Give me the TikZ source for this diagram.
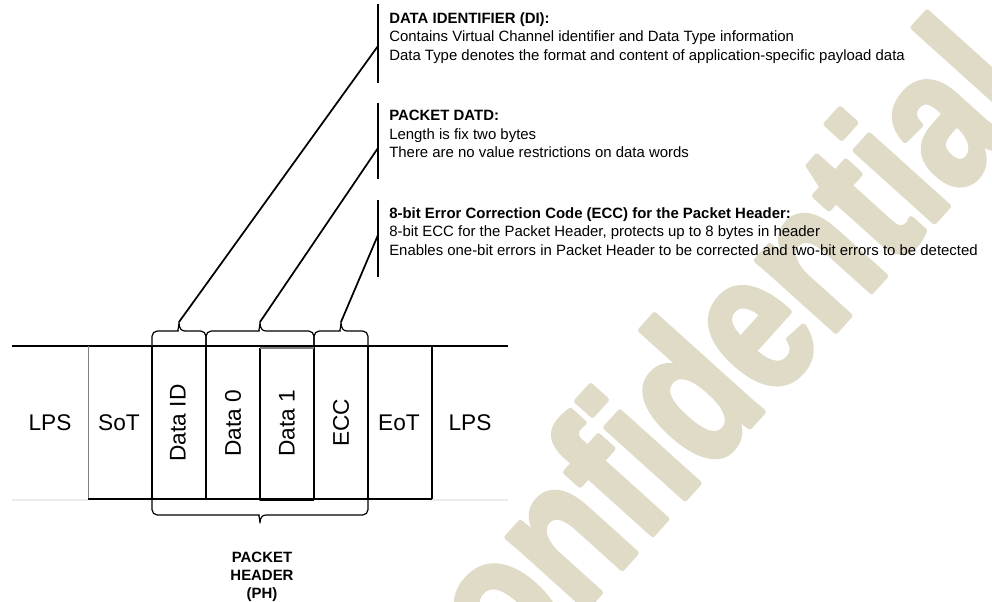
\documentclass[tikz,border=0pt]{standalone}
\usepackage{fontspec}
\usepackage{graphicx}
\setmainfont{Liberation Sans}
\newfontfamily\wmfont[BoldFeatures={FakeBold=3}]{Liberation Sans}
\definecolor{wmark}{RGB}{224,219,199}
\definecolor{faint}{RGB}{236,236,236}

\tikzset{
  field/.style={inner sep=0pt,font=\fontsize{17}{17}\selectfont},
  vfield/.style={field,rotate=90},
  note/.style={anchor=north west,align=left,inner sep=0pt,font=\fontsize{11.2}{13.9}\selectfont},
  bar/.style={line width=1.9pt},
  leader/.style={line width=1.3pt},
  brace/.style={line width=0.9pt,rounded corners=4pt},
}

\begin{document}
\begin{tikzpicture}[x=0.75pt,y=-0.75pt,line join=round]
  \useasboundingbox (0,0) rectangle (992,602);
  % watermark
  \node[wmark,rotate=48,inner sep=0pt,font=\wmfont\bfseries\fontsize{150}{150}\selectfont] (wm) at (688,388) {\scalebox{0.78}[1]{Confidential}};

  % packet frame
  \draw[line width=0.9pt] (12,346)--(508,346);
  \draw[line width=0.8pt,faint] (12,500)--(88,500) (432,500)--(508,500);
  \draw[line width=0.7pt,gray] (88,346)--(88,499);
  \draw[line width=1pt] (88,499)--(432,499);
  \draw[line width=1pt] (432,346)--(432,499);
  \draw[line width=1pt] (152,346)--(152,499) (206,346)--(206,499) (314,346)--(314,499) (368,346)--(368,499);
  \draw[line width=1pt] (260,348)--(260,500)--(314,500);
  \draw[line width=0.8pt,gray] (260,348)--(314,348);

  % braces
  \coordinate (tipA) at (179,322);
  \coordinate (tipB) at (260,322);
  \coordinate (tipC) at (341,322);
  \coordinate (tipP) at (260,523);
  \draw[brace](152,346)--(152,331)--(173,331)[sharp corners]..controls(177,331)and(179,328)..(tipA)..controls(179,328)and(181,331)..(185,331)[rounded corners=4pt]--(206,331)--(206,346);
  \draw[brace](206,346)--(206,331)--(254,331)[sharp corners]..controls(258,331)and(260,328)..(tipB)..controls(260,328)and(262,331)..(266,331)[rounded corners=4pt]--(314,331)--(314,346);
  \draw[brace](314,346)--(314,331)--(335,331)[sharp corners]..controls(339,331)and(341,328)..(tipC)..controls(341,328)and(343,331)..(347,331)[rounded corners=4pt]--(368,331)--(368,346);
  \draw[brace](152,499)--(152,515)--(254,515)[sharp corners]..controls(258,515)and(260,518)..(tipP)..controls(260,518)and(262,515)..(266,515)[rounded corners=4pt]--(368,515)--(368,499);

  % fields
  \node[field] (lpsA) at (50,423) {LPS};
  \node[field] (sot) at (119,423) {SoT};
  \node[vfield] (did) at (178,423) {Data ID};
  \node[vfield] (dzero) at (233,423) {Data 0};
  \node[vfield] (done) at (287,423) {Data 1};
  \node[vfield] (ecc) at (341,423) {ECC};
  \node[field] (eot) at (399,423) {EoT};
  \node[field] (lpsB) at (470,423) {LPS};
  \node[anchor=north,align=center,inner sep=0pt,font=\bfseries\fontsize{11.2}{13.5}\selectfont] (ph) at (262,552) {PACKET\\HEADER\\(PH)};

  % notes
  \coordinate (barA) at (378,46);
  \coordinate (barB) at (378,148);
  \coordinate (barC) at (378,235);
  \draw[bar] (378,4)--(378,83);
  \draw[bar] (378,103)--(378,179);
  \draw[bar] (378,200)--(378,277);
  \draw[leader] (tipA)--(barA);
  \draw[leader] (tipB)--(barB);
  \draw[leader] (tipC)--(barC);
  \node[note] (di) at (389,12) {\textbf{DATA IDENTIFIER (DI):}\\Contains Virtual Channel identifier and Data Type information\\Data Type denotes the format and content of application-specific payload data};
  \node[note] (pd) at (389,110) {\textbf{PACKET DATD:}\\Length is fix two bytes\\There are no value restrictions on data words};
  \node[note] (ecn) at (389,207) {\textbf{8-bit Error Correction Code (ECC) for the Packet Header:}\\8-bit ECC for the Packet Header, protects up to 8 bytes in header\\Enables one-bit errors in Packet Header to be corrected and two-bit errors to be detected};
\end{tikzpicture}
\end{document}
